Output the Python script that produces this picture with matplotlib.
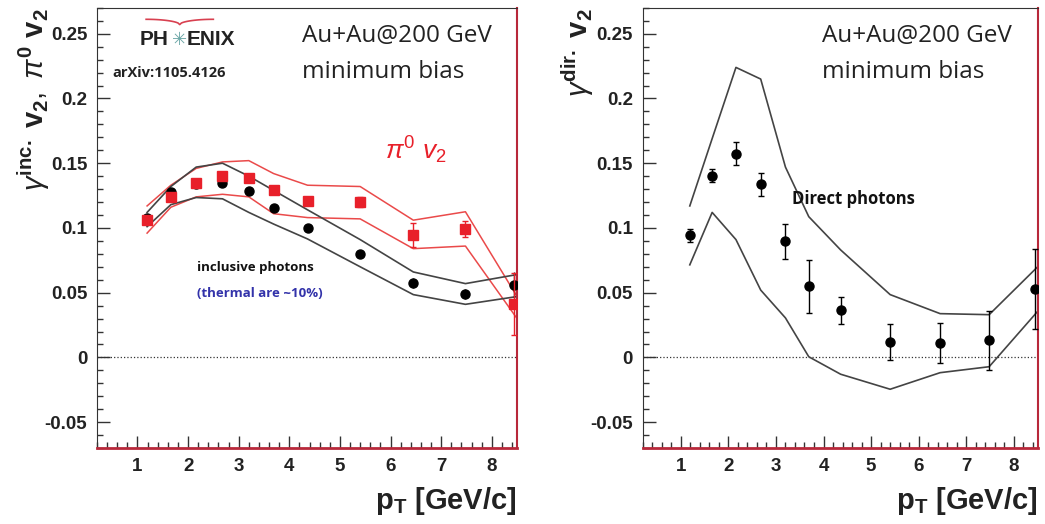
import numpy as np
import matplotlib
matplotlib.use('Agg')
import matplotlib.pyplot as plt
from matplotlib.ticker import MultipleLocator

plt.rcParams['font.family'] = ['Liberation Sans', 'DejaVu Sans']
plt.rcParams['mathtext.fontset'] = 'custom'
plt.rcParams['mathtext.rm'] = 'Liberation Sans'
plt.rcParams['mathtext.bf'] = 'Liberation Sans:bold'
plt.rcParams['mathtext.it'] = 'Liberation Sans:italic'

# ---- data ----
pt = [1.19, 1.66, 2.16, 2.68, 3.2, 3.69, 4.36, 5.4, 6.45, 7.48, 8.44]

# left panel: inclusive photons (black) and pi0 (red)
inc_v2 = [0.108, 0.1274, 0.134, 0.135, 0.1285, 0.1156, 0.0997, 0.080, 0.0574, 0.049, 0.056]
inc_err = [0.002, 0.002, 0.002, 0.002, 0.002, 0.002, 0.002, 0.002, 0.004, 0.004, 0.010]
pi0_v2 = [0.106, 0.1236, 0.1344, 0.140, 0.1387, 0.129, 0.1208, 0.120, 0.0946, 0.099, 0.041]
pi0_err = [0.003, 0.003, 0.003, 0.003, 0.003, 0.003, 0.003, 0.004, 0.009, 0.006, 0.024]

band_x = [1.19, 1.66, 2.16, 2.68, 3.2, 3.69, 4.36, 5.4, 6.45, 7.48, 8.5]
dec_hi = [0.112, 0.132, 0.147, 0.150, 0.140, 0.129, 0.114, 0.091, 0.066, 0.057, 0.064]
dec_lo = [0.101, 0.118, 0.1235, 0.1225, 0.112, 0.103, 0.0915, 0.070, 0.0485, 0.041, 0.047]
pi0_hi = [0.117, 0.133, 0.146, 0.151, 0.152, 0.142, 0.133, 0.132, 0.106, 0.1125, 0.047]
pi0_lo = [0.096, 0.116, 0.124, 0.126, 0.124, 0.111, 0.108, 0.107, 0.084, 0.086, 0.030]

# right panel: direct photons
dir_v2 = [0.0944, 0.1405, 0.1574, 0.1336, 0.0897, 0.0549, 0.0364, 0.0121, 0.0108, 0.0131, 0.053]
dir_err = [0.005, 0.005, 0.0087, 0.009, 0.0134, 0.0204, 0.0105, 0.0138, 0.0155, 0.0227, 0.031]
dir_hi = [0.117, 0.169, 0.224, 0.215, 0.147, 0.1087, 0.083, 0.0485, 0.0338, 0.033, 0.070]
dir_lo = [0.0715, 0.112, 0.091, 0.052, 0.0305, 0.0005, -0.013, -0.0246, -0.0118, -0.0072, 0.0356]

RED = '#e8202a'
RED_LINE = '#ea4a4a'
FRAME_RED = '#b8283a'
TXT = ['Open Sans', 'DejaVu Sans']


def style_axes(ax):
    ax.set_xlim(0.2, 8.5)
    ax.set_ylim(-0.07, 0.27)
    ax.xaxis.set_minor_locator(MultipleLocator(0.2))
    ax.yaxis.set_minor_locator(MultipleLocator(0.01))
    ax.tick_params(which='both', direction='in', top=False, right=False,
                   color='#333333', width=1.0)
    ax.tick_params(which='major', length=9, labelsize=13.5, pad=7, labelcolor='#222222')
    ax.tick_params(which='minor', length=4.5)
    ax.set_xticks(np.arange(1, 9))
    ax.set_xticklabels([str(i) for i in range(1, 9)], fontweight='bold')
    ax.set_yticks([-0.05, 0, 0.05, 0.1, 0.15, 0.2, 0.25])
    ax.set_yticklabels(['-0.05', '0', '0.05', '0.1', '0.15', '0.2', '0.25'], fontweight='bold')
    ax.spines['left'].set_color('#333333')
    ax.spines['top'].set_color('#333333')
    ax.spines['bottom'].set_color(FRAME_RED)
    ax.spines['right'].set_color(FRAME_RED)
    ax.spines['bottom'].set_linewidth(2.0)
    ax.spines['right'].set_linewidth(1.5)
    ax.axhline(0, color='#333333', ls=':', lw=0.9, zorder=1)
    ax.text(1.0, -0.12, r'$\mathbf{p_T}$ [GeV/c]', transform=ax.transAxes,
            ha='right', va='center', fontsize=21, fontweight='bold', color='#222222')


fig = plt.figure(figsize=(10.45, 5.24), dpi=100)
ax1 = fig.add_axes([0.0928, 0.145, 0.402, 0.840])
ax2 = fig.add_axes([0.615, 0.145, 0.378, 0.840])

# ---- left panel ----
style_axes(ax1)
ax1.plot(band_x, pi0_hi, color=RED_LINE, lw=1.1, zorder=2)
ax1.plot(band_x, pi0_lo, color=RED_LINE, lw=1.1, zorder=2)
ax1.plot(band_x, dec_hi, color='#444444', lw=1.2, zorder=2)
ax1.plot(band_x, dec_lo, color='#444444', lw=1.2, zorder=2)
ax1.errorbar(pt, inc_v2, yerr=inc_err, fmt='o', color='black', ms=6.5,
             elinewidth=1, capsize=0, zorder=3)
ax1.errorbar(pt, pi0_v2, yerr=pi0_err, fmt='s', color=RED, ms=7,
             elinewidth=1, capsize=2, zorder=4)

ax1.text(-0.15, 1.0, r'$\gamma^{\mathbf{inc.}}\ \mathbf{v_2},\ \pi^{\mathbf{0}}\ \mathbf{v_2}$',
         transform=ax1.transAxes, rotation=90, ha='center', va='top',
         fontsize=21, color='#222222')

# PHENIX logo
ax1.text(0.102, 0.927, 'PH', transform=ax1.transAxes, ha='left', va='center',
         fontsize=15, fontweight='bold', color='#222222')
ax1.text(0.197, 0.927, '\u2733', transform=ax1.transAxes, ha='center', va='center',
         fontsize=13, color='#6aa6a6', family=['DejaVu Sans'])
ax1.text(0.213, 0.927, 'ENIX', transform=ax1.transAxes, ha='left', va='center',
         fontsize=15, fontweight='bold', color='#222222')
arc_t = np.linspace(-1, 1, 41)
ax1.plot(0.197 + 0.08 * arc_t, 0.962 + 0.016 * np.abs(arc_t) ** 0.5 - 0.004 * arc_t ** 2,
         transform=ax1.transAxes, color='#d84050', lw=1.2)
ax1.text(0.036, 0.852, 'arXiv:1105.4126', transform=ax1.transAxes, ha='left', va='center',
         fontsize=10.5, fontweight='bold', color='#222222', family=TXT)

ax1.text(0.488, 0.936, 'Au+Au@200 GeV', transform=ax1.transAxes, ha='left', va='center',
         fontsize=17.5, family=TXT, color='#222222')
ax1.text(0.488, 0.855, 'minimum bias', transform=ax1.transAxes, ha='left', va='center',
         fontsize=17.5, family=TXT, color='#222222')
ax1.text(0.686, 0.677, r'$\pi^0$ $v_2$', transform=ax1.transAxes, ha='left', va='center',
         fontsize=19, color=RED)
ax1.text(0.238, 0.409, 'inclusive photons', transform=ax1.transAxes, ha='left', va='center',
         fontsize=9.5, fontweight='bold', family=TXT, color='#111111')
ax1.text(0.238, 0.35, '(thermal are ~10%)', transform=ax1.transAxes, ha='left', va='center',
         fontsize=9.5, fontweight='bold', family=TXT, color='#3333aa')

# ---- right panel ----
style_axes(ax2)
ax2.plot(pt[:-1] + [8.5], dir_hi, color='#444444', lw=1.2, zorder=2)
ax2.plot(pt[:-1] + [8.5], dir_lo, color='#444444', lw=1.2, zorder=2)
ax2.errorbar(pt, dir_v2, yerr=dir_err, fmt='o', color='black', ms=6.5,
             elinewidth=1, capsize=2.5, zorder=3)
ax2.text(-0.165, 1.0, r'$\gamma^{\mathbf{dir.}}\ \mathbf{v_2}$',
         transform=ax2.transAxes, rotation=90, ha='center', va='top',
         fontsize=21, color='#222222')
ax2.text(0.453, 0.936, 'Au+Au@200 GeV', transform=ax2.transAxes, ha='left', va='center',
         fontsize=17.5, family=TXT, color='#222222')
ax2.text(0.453, 0.855, 'minimum bias', transform=ax2.transAxes, ha='left', va='center',
         fontsize=17.5, family=TXT, color='#222222')
ax2.text(0.377, 0.566, 'Direct photons', transform=ax2.transAxes, ha='left', va='center',
         fontsize=12, fontweight='bold', family=TXT, color='#111111')

fig.savefig('out.png', dpi=100)
